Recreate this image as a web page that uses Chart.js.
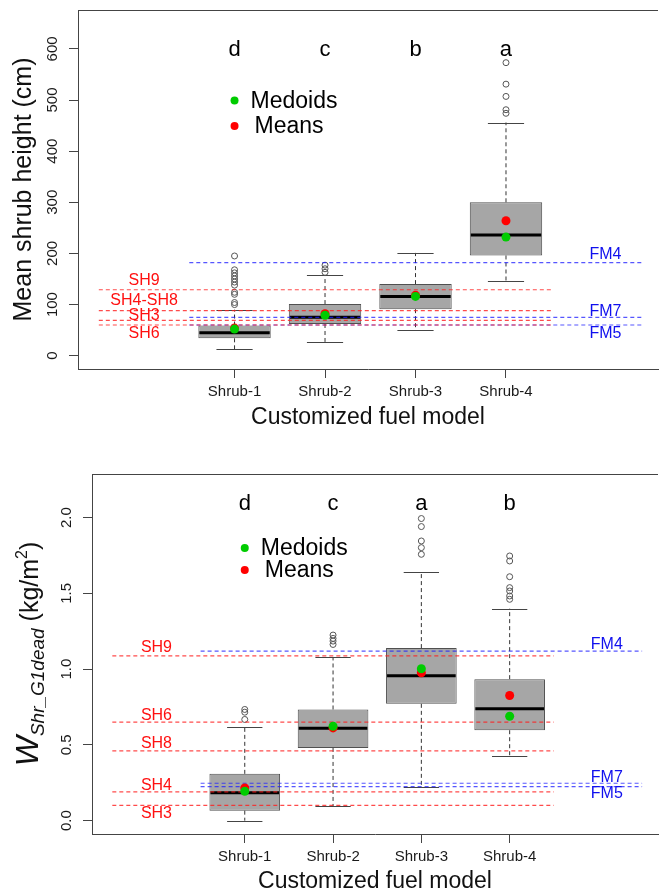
<!DOCTYPE html>
<html>
<head>
<meta charset="utf-8">
<script src="https://cdn.jsdelivr.net/npm/chart.js@4.4.1/dist/chart.umd.min.js"></script>
<style>
    html, body { margin: 0; padding: 0; background: #fff; }
    body { width: 663px; height: 894px; position: relative; overflow: hidden; }
    canvas { position: absolute; left: 0; }
    #chart-height { top: 0; }
    #chart-load { top: 440px; }
</style>
</head>
<body>
<canvas id="chart-height" width="663" height="440"></canvas>
<canvas id="chart-load" width="663" height="454"></canvas>
<script>
const categories = ['Shrub-1', 'Shrub-2', 'Shrub-3', 'Shrub-4'];

// panel 1 - mean shrub height (cm)
const heightLower = [13, 27, 50, 147];
const heightQ1 = [34, 62, 91, 196];
const heightMedian = [45, 75, 116, 236];
const heightQ3 = [59, 101, 140, 300];
const heightUpper = [90, 157, 201, 456];
const heightOutliers = [
    [195, 168, 162, 156, 150, 144, 138, 124, 120, 104, 100],
    [177, 170, 163],
    [],
    [573, 531, 507, 481, 474],
];
const heightMeans = [54, 82, 118, 264];
const heightMedoids = [52, 79, 116, 232];
const heightLetters = ['d', 'c', 'b', 'a'];
const heightTicks = [0, 100, 200, 300, 400, 500, 600];
const heightTickLabels = ['0', '100', '200', '300', '400', '500', '600'];
const heightShNames = ['SH9', 'SH4-SH8', 'SH3', 'SH6'];
const heightShValues = [129, 88, 69, 60];
const heightShLabelY = [146, 107, 78, 43];
const heightFmNames = ['FM4', 'FM7', 'FM5'];
const heightFmValues = [182, 75, 60];
const heightFmLabelY = [198, 86, 43];
const heightLegendY = [499, 449];
const heightLetterY = 597;

// panel 2 - W Shr_G1dead (kg/m2)
const weightLower = [0.0, 0.095, 0.22, 0.43];
const weightQ1 = [0.066, 0.48, 0.771, 0.597];
const weightMedian = [0.185, 0.61, 0.956, 0.738];
const weightQ3 = [0.309, 0.734, 1.139, 0.934];
const weightUpper = [0.615, 1.077, 1.641, 1.399];
const weightOutliers = [
    [0.734, 0.716, 0.668],
    [1.225, 1.203, 1.185, 1.163],
    [1.994, 1.941, 1.846, 1.802, 1.758],
    [1.747, 1.714, 1.61, 1.538, 1.516, 1.483, 1.461],
];
const weightMeans = [0.216, 0.612, 0.976, 0.826];
const weightMedoids = [0.194, 0.623, 1.003, 0.689];
const weightLetters = ['d', 'c', 'a', 'b'];
const weightTicks = [0, 0.5, 1, 1.5, 2];
const weightTickLabels = ['0.0', '0.5', '1.0', '1.5', '2.0'];
const weightShNames = ['SH9', 'SH6', 'SH8', 'SH4', 'SH3'];
const weightShValues = [1.088, 0.65, 0.46, 0.19, 0.101];
const weightShLabelY = [1.141, 0.694, 0.507, 0.231, 0.044];
const weightFmNames = ['FM4', 'FM7', 'FM5'];
const weightFmValues = [1.119, 0.247, 0.225];
const weightFmLabelY = [1.163, 0.282, 0.176];
const weightLegendY = [1.80, 1.655];
const weightLetterY = 2.09;

// x extents of the reference segments and label columns (axis units)
const shSpan = [-0.5, 4.5];
const fmSpan = [0.5, 5.5];
const shLabelX = 0;
const fmLabelX = 5.1;

const FONT = '"Liberation Sans", Arial, sans-serif';
const AXIS_COLOR = '#444';

function drawHeightTitle(ctx, bx, cy) {
    ctx.save();
    ctx.translate(bx, cy);
    ctx.rotate(-Math.PI / 2);
    ctx.font = `25px ${FONT}`;
    ctx.fillStyle = '#111';
    ctx.textAlign = 'center';
    ctx.textBaseline = 'alphabetic';
    ctx.fillText('Mean shrub height (cm)', 0, 0);
    ctx.restore();
}

function drawWeightTitle(ctx, bx, cy) {
    const parts = [
        { t: 'W', font: `italic 32px ${FONT}`, dy: 0 },
        { t: 'Shr_G1dead', font: `italic 19px ${FONT}`, dy: 6 },
        { t: ' (kg/m', font: `25px ${FONT}`, dy: 0 },
        { t: '2', font: `16px ${FONT}`, dy: -11 },
        { t: ')', font: `25px ${FONT}`, dy: 0 },
    ];
    ctx.save();
    let total = 0;
    parts.forEach(part => {
        ctx.font = part.font;
        part.w = ctx.measureText(part.t).width;
        total += part.w;
    });
    ctx.translate(bx, cy);
    ctx.rotate(-Math.PI / 2);
    ctx.fillStyle = '#111';
    ctx.textAlign = 'left';
    ctx.textBaseline = 'alphabetic';
    let pos = -total / 2;
    parts.forEach(part => {
        ctx.font = part.font;
        ctx.fillText(part.t, pos, part.dy);
        pos += part.w;
    });
    ctx.restore();
}

function makeChart(canvasId, p) {
    const canvas = document.getElementById(canvasId);
    const n = categories.length;

    const boxParts = {
        id: 'boxParts',
        afterDatasetDraw(chart, args) {
            if (args.index !== 0) return;
            const { ctx } = chart;
            const x = chart.scales.x;
            const y = chart.scales.y;
            ctx.save();
            for (let i = 0; i < n; i++) {
                const cx = x.getPixelForValue(i + 1);
                const half = x.getPixelForValue(i + 1.4) - cx;
                const capHalf = x.getPixelForValue(i + 1.2) - cx;

                // whiskers
                ctx.strokeStyle = '#333';
                ctx.lineWidth = 1;
                ctx.setLineDash([4, 3]);
                ctx.beginPath();
                ctx.moveTo(cx, y.getPixelForValue(p.q3[i]));
                ctx.lineTo(cx, y.getPixelForValue(p.upper[i]));
                ctx.moveTo(cx, y.getPixelForValue(p.q1[i]));
                ctx.lineTo(cx, y.getPixelForValue(p.lower[i]));
                ctx.stroke();

                // caps
                ctx.setLineDash([]);
                ctx.strokeStyle = '#444';
                ctx.beginPath();
                [p.upper[i], p.lower[i]].forEach(v => {
                    const py = Math.round(y.getPixelForValue(v)) + 0.5;
                    ctx.moveTo(cx - capHalf, py);
                    ctx.lineTo(cx + capHalf, py);
                });
                ctx.stroke();

                // median
                ctx.strokeStyle = '#000';
                ctx.lineWidth = 3;
                ctx.beginPath();
                const my = y.getPixelForValue(p.median[i]);
                ctx.moveTo(cx - half + 1, my);
                ctx.lineTo(cx + half - 1, my);
                ctx.stroke();
            }
            ctx.restore();
        },
        afterDraw(chart) {
            const { ctx, chartArea: a } = chart;
            const x = chart.scales.x;
            const y = chart.scales.y;
            ctx.save();

            // top of the frame
            ctx.strokeStyle = AXIS_COLOR;
            ctx.lineWidth = 1;
            ctx.beginPath();
            ctx.moveTo(a.left, Math.round(a.top) + 0.5);
            ctx.lineTo(a.right, Math.round(a.top) + 0.5);
            ctx.stroke();

            // y tick labels, parallel to the axis
            ctx.fillStyle = '#1a1a1a';
            ctx.font = `15px ${FONT}`;
            ctx.textAlign = 'center';
            ctx.textBaseline = 'middle';
            p.ticks.forEach((v, k) => {
                ctx.save();
                ctx.translate(a.left - 25, y.getPixelForValue(v));
                ctx.rotate(-Math.PI / 2);
                ctx.fillText(p.tickLabels[k], 0, 0);
                ctx.restore();
            });

            // significance letters
            ctx.fillStyle = '#000';
            ctx.font = `22px ${FONT}`;
            p.letters.forEach((l, i) => {
                ctx.fillText(l, x.getPixelForValue(i + 1), y.getPixelForValue(p.letterY));
            });

            // legend
            const lx = x.getPixelForValue(1);
            const legendItems = [
                { text: 'Medoids', color: '#00CC00', dx: 16 },
                { text: 'Means', color: '#FF0000', dx: 20 },
            ];
            legendItems.forEach((item, k) => {
                const ly = y.getPixelForValue(p.legendY[k]);
                ctx.fillStyle = item.color;
                ctx.beginPath();
                ctx.arc(lx, ly, 4, 0, Math.PI * 2);
                ctx.fill();
                ctx.fillStyle = '#000';
                ctx.font = `23px ${FONT}`;
                ctx.textAlign = 'left';
                ctx.fillText(item.text, lx + item.dx, ly + 1);
            });

            // reference line labels
            ctx.textAlign = 'center';
            ctx.font = `16px ${FONT}`;
            ctx.fillStyle = '#FF1010';
            p.shNames.forEach((name, k) => {
                ctx.fillText(name, x.getPixelForValue(shLabelX), y.getPixelForValue(p.shLabelY[k]));
            });
            ctx.fillStyle = '#1010EE';
            p.fmNames.forEach((name, k) => {
                ctx.fillText(name, x.getPixelForValue(fmLabelX), y.getPixelForValue(p.fmLabelY[k]));
            });

            // axis titles
            ctx.fillStyle = '#111';
            ctx.font = `23px ${FONT}`;
            ctx.fillText('Customized fuel model', (a.left + a.right) / 2, a.bottom + p.xTitleGap);
            p.drawYTitle(ctx, p.yTitleX, (a.top + a.bottom) / 2);

            ctx.restore();
        },
    };

    const datasets = [];

    datasets.push({
        type: 'bar',
        label: 'box',
        data: categories.map((c, i) => ({ x: i + 1, y: [p.q1[i], p.q3[i]] })),
        backgroundColor: '#A6A6A6',
        borderColor: '#505050',
        borderWidth: 1,
        borderSkipped: false,
        barPercentage: 0.8,
        categoryPercentage: 1,
        order: 5,
    });

    datasets.push({
        type: 'scatter',
        label: 'outliers',
        data: p.outliers.flatMap((vals, i) => vals.map(v => ({ x: i + 1, y: v }))),
        pointStyle: 'circle',
        pointRadius: 3,
        backgroundColor: 'rgba(255,255,255,0)',
        borderColor: '#555',
        borderWidth: 1,
        order: 4,
    });

    p.shValues.forEach((v, k) => {
        datasets.push({
            type: 'line',
            label: p.shNames[k],
            data: [{ x: shSpan[0], y: v }, { x: shSpan[1], y: v }],
            borderColor: 'rgba(255,30,30,0.8)',
            borderWidth: 1.2,
            borderDash: [4, 3],
            pointRadius: 0,
            fill: false,
            order: 3,
        });
    });

    p.fmValues.forEach((v, k) => {
        datasets.push({
            type: 'line',
            label: p.fmNames[k],
            data: [{ x: fmSpan[0], y: v }, { x: fmSpan[1], y: v }],
            borderColor: 'rgba(30,30,255,0.75)',
            borderWidth: 1.2,
            borderDash: [4, 3],
            pointRadius: 0,
            fill: false,
            order: 3,
        });
    });

    datasets.push({
        type: 'scatter',
        label: 'Means',
        data: categories.map((c, i) => ({ x: i + 1, y: p.means[i] })),
        pointRadius: 4.5,
        backgroundColor: '#FF0000',
        borderColor: '#FF0000',
        borderWidth: 0,
        order: 1,
    });

    datasets.push({
        type: 'scatter',
        label: 'Medoids',
        data: categories.map((c, i) => ({ x: i + 1, y: p.medoids[i] })),
        pointRadius: 4.5,
        backgroundColor: '#00CC00',
        borderColor: '#00CC00',
        borderWidth: 0,
        order: 0,
    });

    const axisGrid = {
        display: true,
        drawOnChartArea: false,
        drawTicks: true,
        tickLength: 9,
        color: AXIS_COLOR,
        lineWidth: 1,
        offset: false,
    };

    return new Chart(canvas, {
        type: 'bar',
        data: { datasets: datasets },
        options: {
            responsive: false,
            animation: false,
            events: [],
            layout: { padding: { top: p.padTop, left: 0, right: 0, bottom: 0 } },
            plugins: {
                legend: { display: false },
                tooltip: { enabled: false },
            },
            scales: {
                x: {
                    type: 'linear',
                    min: -0.73,
                    max: 5.68,
                    offset: false,
                    afterBuildTicks: s => { s.ticks = categories.map((c, i) => ({ value: i + 1 })); },
                    afterFit: s => { s.height = p.xAxisHeight; },
                    grid: axisGrid,
                    border: { display: true, color: AXIS_COLOR, width: 1 },
                    ticks: {
                        callback: v => categories[v - 1] || '',
                        font: { family: FONT, size: 15 },
                        color: '#1a1a1a',
                        padding: 5,
                        maxRotation: 0,
                        autoSkip: false,
                    },
                },
                y: {
                    type: 'linear',
                    min: p.yMin,
                    max: p.yMax,
                    afterBuildTicks: s => { s.ticks = p.ticks.map(v => ({ value: v })); },
                    afterFit: s => { s.width = p.yAxisWidth; },
                    grid: axisGrid,
                    border: { display: true, color: AXIS_COLOR, width: 1 },
                    ticks: { display: false },
                },
            },
        },
        plugins: [boxParts],
    });
}

makeChart('chart-height', {
    lower: heightLower, q1: heightQ1, median: heightMedian, q3: heightQ3, upper: heightUpper,
    outliers: heightOutliers, means: heightMeans, medoids: heightMedoids,
    letters: heightLetters, letterY: heightLetterY, legendY: heightLegendY,
    ticks: heightTicks, tickLabels: heightTickLabels,
    shNames: heightShNames, shValues: heightShValues, shLabelY: heightShLabelY,
    fmNames: heightFmNames, fmValues: heightFmValues, fmLabelY: heightFmLabelY,
    yMin: -26, yMax: 676,
    padTop: 10, yAxisWidth: 78, xAxisHeight: 71, xTitleGap: 49,
    yTitleX: 31, drawYTitle: drawHeightTitle,
});

makeChart('chart-load', {
    lower: weightLower, q1: weightQ1, median: weightMedian, q3: weightQ3, upper: weightUpper,
    outliers: weightOutliers, means: weightMeans, medoids: weightMedoids,
    letters: weightLetters, letterY: weightLetterY, legendY: weightLegendY,
    ticks: weightTicks, tickLabels: weightTickLabels,
    shNames: weightShNames, shValues: weightShValues, shLabelY: weightShLabelY,
    fmNames: weightFmNames, fmValues: weightFmValues, fmLabelY: weightFmLabelY,
    yMin: -0.088, yMax: 2.288,
    padTop: 34, yAxisWidth: 92, xAxisHeight: 60, xTitleGap: 48,
    yTitleX: 38, drawYTitle: drawWeightTitle,
});
</script>
</body>
</html>
